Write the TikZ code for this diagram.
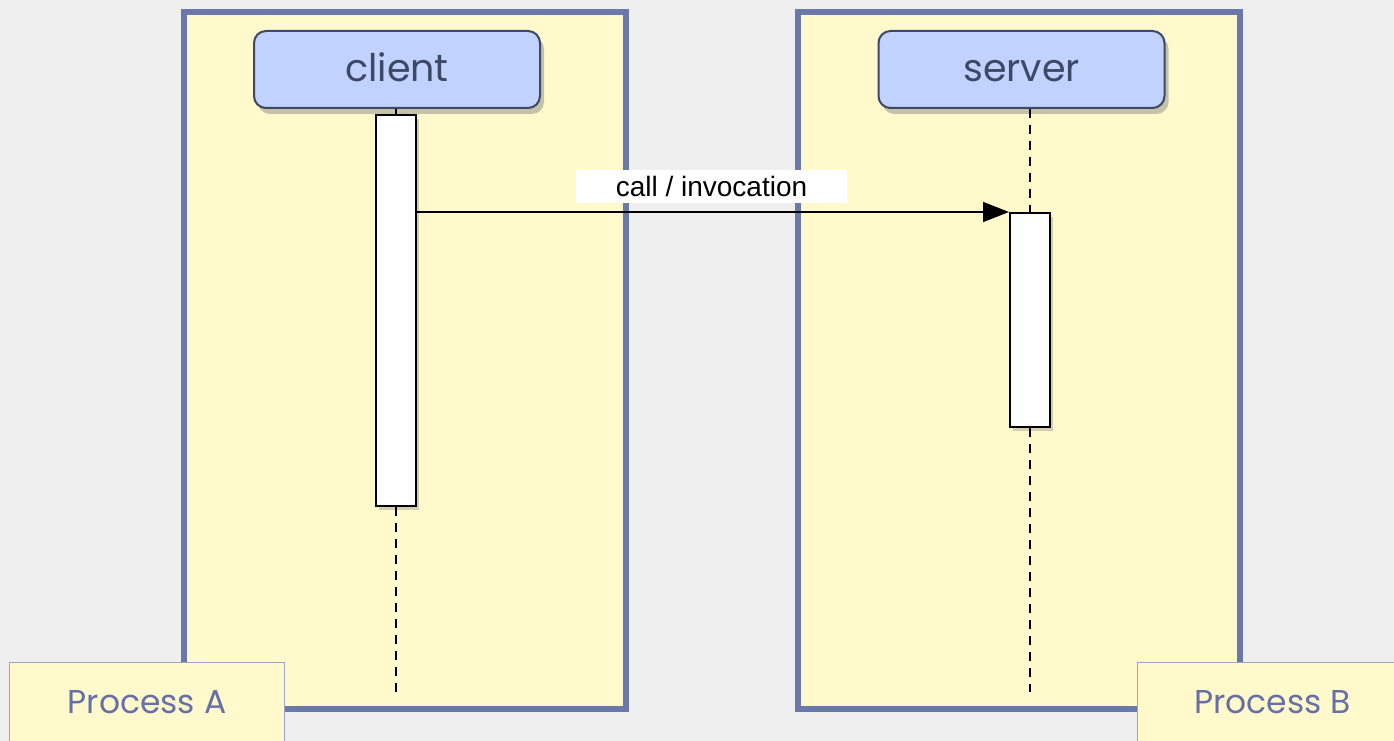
\documentclass[tikz,border=0pt]{standalone}
\usepackage{fontspec}
\setmainfont{Poppins}
\newfontfamily\msgfont{Liberation Sans}
\usetikzlibrary{positioning,calc,shadows,arrows.meta}

\definecolor{bgfill}{HTML}{EFEFEF}
\definecolor{procfill}{HTML}{FFF9CC}
\definecolor{procline}{HTML}{6A78AA}
\definecolor{headfill}{HTML}{C2D2FF}
\definecolor{headline}{HTML}{3C4866}
\definecolor{tagline}{HTML}{9AA4CC}
\definecolor{tagtext}{HTML}{6670A8}

\tikzset{
    process/.style={draw=procline, line width=6pt, fill=procfill, minimum width=442pt, minimum height=697pt},
    header/.style={draw=headline, line width=2pt, fill=headfill, rounded corners=12pt,
        minimum width=286pt, minimum height=77pt, text=headline,
        text height=28pt, text depth=4pt,
        font=\fontsize{38}{42}\selectfont,
        drop shadow={shadow xshift=4pt, shadow yshift=-6pt, opacity=0.45}},
    actbar/.style={draw=black, line width=2pt, fill=white, minimum width=40pt,
        drop shadow={shadow xshift=3pt, shadow yshift=-4pt, opacity=0.35}},
    lifeline/.style={line width=2pt, dash pattern=on 9pt off 7pt},
    tag/.style={draw=tagline, line width=1pt, fill=procfill, text=tagtext,
        minimum height=80pt, anchor=north west, font=\fontsize{33}{38}\selectfont},
    msglabel/.style={fill=white, minimum width=271pt, minimum height=33pt,
        font=\msgfont\fontsize{28}{30}\selectfont}
}

\begin{document}
\begin{tikzpicture}[x=1pt, y=-1pt]
    \useasboundingbox (0,0) rectangle (1394,741);
    \fill[bgfill] (0,0) rectangle (1394,741);

    % Processes
    \node[process] (procA) at (405,360.5) {};
    \node[process] (procB) at (1019,360.5) {};

    % Lifelines
    \node[header] (client) at (397,69.5) {client};
    \node[header] (server) at (1021.5,69.5) {server};
    \node[actbar, minimum height=391pt] (clientact) at (396,310.5) {};
    \node[actbar, minimum height=214pt] (srvact) at (1030,320) {};
    \coordinate (clientend) at (clientact.south |- 0,692);
    \coordinate (srvend) at (srvact.south |- 0,692);

    \draw[lifeline] (clientact.north |- client.south) -- (clientact.north);
    \draw[lifeline] (clientact.south) -- (clientend);
    \draw[lifeline] (srvact.north |- server.south) -- (srvact.north);
    \draw[lifeline] (srvact.south) -- (srvend);

    % Message
    \node[msglabel] (calllbl) at (711.5,186.5) {call / invocation};
    \draw[-{Triangle[length=26pt,width=20pt]}, line width=1.5pt]
        (clientact.east |- srvact.north west) -- (srvact.north west);

    % Process names
    \node[tag, minimum width=275pt] (tagA) at (9,662) {Process A};
    \node[tag, minimum width=270pt] (tagB) at (1137,662) {Process B};
\end{tikzpicture}
\end{document}
